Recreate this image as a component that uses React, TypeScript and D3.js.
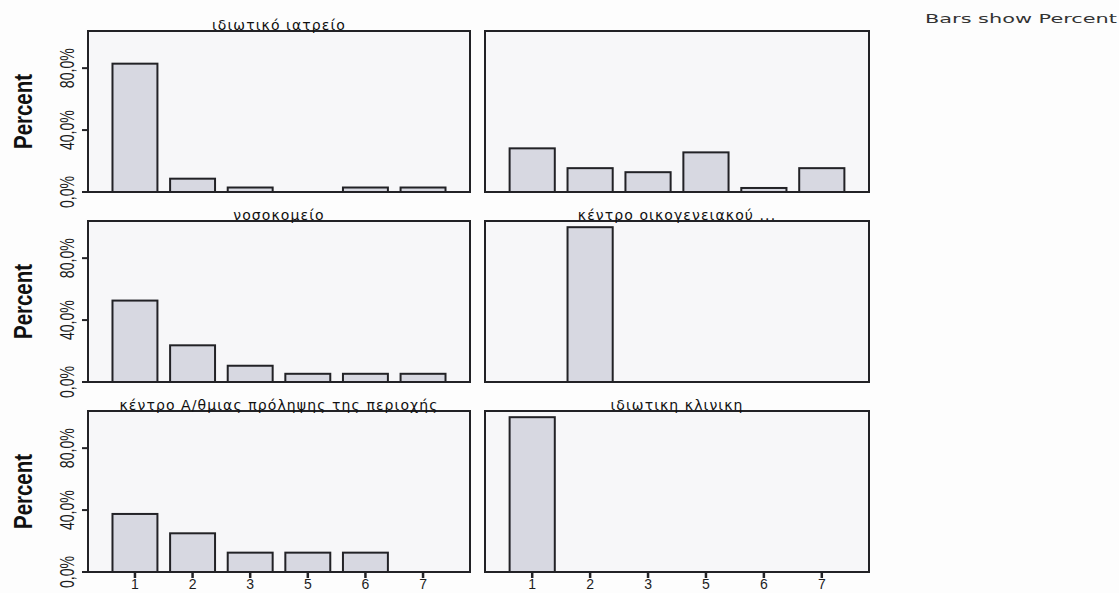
import React from "react";
import * as d3 from "d3";

// Category codes along the x axis (shared by every panel)
const categories = ["1", "2", "3", "5", "6", "7"];

// Panel titles, row by row (left, right)
const panelTitles = [
  "ιδιωτικό ιατρείο",
  "",
  "νοσοκομείο",
  "κέντρο οικογενειακού ...",
  "κέντρο Α/θμιας πρόληψης της περιοχής",
  "ιδιωτικη κλινικη",
];

// Percent of cases per category, one array per panel
const privateOffice = [82.9, 8.6, 2.9, 0, 2.9, 2.9];
const untitledPanel = [28.2, 15.4, 12.8, 25.6, 2.6, 15.4];
const hospital = [52.6, 23.7, 10.5, 5.3, 5.3, 5.3];
const familyCentre = [0, 100, 0, 0, 0, 0];
const primaryCareCentre = [37.5, 25, 12.5, 12.5, 12.5, 0];
const privateClinic = [100, 0, 0, 0, 0, 0];

const panelValues = [
  privateOffice,
  untitledPanel,
  hospital,
  familyCentre,
  primaryCareCentre,
  privateClinic,
];

// Y axis ticks (percent) and their labels
const yTicks = [0, 40, 80];
const yTickLabels = ["0,0%", "40,0%", "80,0%"];

const W = 1119;
const H = 593;
const columns = [
  { x0: 88, x1: 470 },
  { x0: 485, x1: 869 },
];
const rows = [
  { y0: 31, y1: 192 },
  { y0: 221, y1: 382 },
  { y0: 411, y1: 572 },
];

const ink = "#222226";
const barFill = "#d7d8e1";
const panelFill = "#f7f7f9";

function Panel({ index }: { index: number }) {
  const col = columns[index % 2];
  const row = rows[Math.floor(index / 2)];
  const isLeft = index % 2 === 0;
  const isBottom = Math.floor(index / 2) === rows.length - 1;
  const values = panelValues[index];
  const title = panelTitles[index];

  const x = d3
    .scaleBand<string>()
    .domain(categories)
    .range([col.x0, col.x1])
    .paddingInner(0.22)
    .paddingOuter(0.425);
  const y = d3.scaleLinear().domain([0, 104]).range([row.y1, row.y0]);
  const cx = (col.x0 + col.x1) / 2;
  const cy = (row.y0 + row.y1) / 2;

  return (
    <g>
      <rect
        x={col.x0}
        y={row.y0}
        width={col.x1 - col.x0}
        height={row.y1 - row.y0}
        fill={panelFill}
        stroke="none"
      />
      {categories.map((c, i) =>
        values[i] > 0 ? (
          <rect
            key={c}
            x={x(c)}
            y={y(values[i])}
            width={x.bandwidth()}
            height={y(0) - y(values[i])}
            fill={barFill}
            stroke={ink}
            strokeWidth={2}
          />
        ) : null
      )}
      <rect
        x={col.x0}
        y={row.y0}
        width={col.x1 - col.x0}
        height={row.y1 - row.y0}
        fill="none"
        stroke={ink}
        strokeWidth={2}
      />
      {title && (
        <text
          x={cx}
          y={row.y0 - 1.5}
          textAnchor="middle"
          fontFamily="DejaVu Sans, sans-serif"
          fontSize={14}
          letterSpacing={1.1}
          fill="#111"
        >
          {title}
        </text>
      )}
      {isLeft && (
        <g>
          {yTicks.map((t, i) => (
            <g key={t}>
              <line
                x1={col.x0 - 6}
                x2={col.x0}
                y1={y(t)}
                y2={y(t)}
                stroke={ink}
                strokeWidth={2}
              />
              <text
                transform={`translate(${col.x0 - 14},${y(t)}) rotate(-90)`}
                textAnchor="middle"
                fontFamily="Liberation Sans Narrow, Arial Narrow, Liberation Sans, sans-serif"
                fontSize={20}
                textLength={yTickLabels[i].length * 8}
                lengthAdjust="spacingAndGlyphs"
                fill="#1c1c1c"
              >
                {yTickLabels[i]}
              </text>
            </g>
          ))}
          <text
            transform={`translate(${col.x0 - 56},${cy}) rotate(-90)`}
            textAnchor="middle"
            fontFamily="Liberation Sans Narrow, Arial Narrow, Liberation Sans, sans-serif"
            fontWeight="bold"
            fontSize={26}
            textLength={75}
            lengthAdjust="spacingAndGlyphs"
            fill="#111"
          >
            Percent
          </text>
        </g>
      )}
      {isBottom &&
        categories.map((c) => {
          const px = (x(c) as number) + x.bandwidth() / 2;
          return (
            <g key={c}>
              <line
                x1={px}
                x2={px}
                y1={row.y1}
                y2={row.y1 + 6}
                stroke={ink}
                strokeWidth={2.5}
              />
              <text
                x={px}
                y={row.y1 + 17}
                textAnchor="middle"
                fontFamily="Liberation Sans, Arial, sans-serif"
                fontSize={14}
                fill="#1c1c1c"
              >
                {c}
              </text>
            </g>
          );
        })}
    </g>
  );
}

export default function App() {
  return (
    <svg
      width={W}
      height={H}
      viewBox={`0 0 ${W} ${H}`}
      style={{ position: "absolute", left: 0, top: 0, background: "#fdfdfd" }}
    >
      <rect x={0} y={0} width={W} height={H} fill="#fdfdfd" />
      {panelValues.map((_, i) => (
        <Panel key={i} index={i} />
      ))}
      <text
        x={925}
        y={23}
        fontFamily="DejaVu Sans, sans-serif"
        fontSize={13}
        textLength={192}
        lengthAdjust="spacingAndGlyphs"
        fill="#333"
      >
        Bars show Percent
      </text>
    </svg>
  );
}
